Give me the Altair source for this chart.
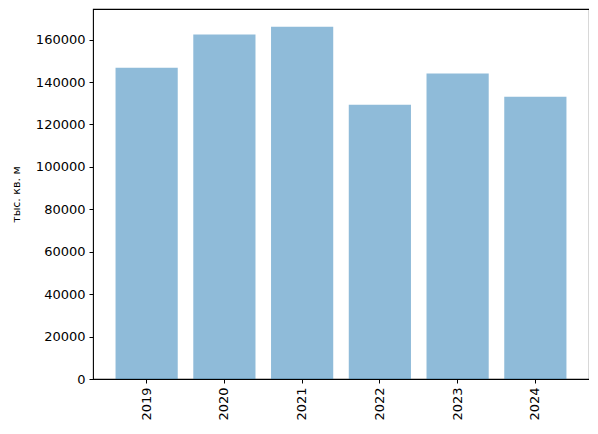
import altair as alt
import pandas as pd

years = ["2019", "2020", "2021", "2022", "2023", "2024"]
values = [146800, 162400, 166100, 129300, 144000, 133100]

df = pd.DataFrame({"year": years, "value": values})

chart = alt.Chart(df).mark_bar(color="#1f77b4", opacity=0.5).encode(
    x=alt.X("year:N", title=None,
            scale=alt.Scale(paddingInner=0.2, paddingOuter=0.29),
            axis=alt.Axis(labelAngle=270, labelAlign="right", labelBaseline="middle",
                          labelFont="DejaVu Sans", labelFontSize=13, labelColor="black",
                          tickColor="black", tickSize=4, labelPadding=4, domain=False)),
    y=alt.Y("value:Q", title="тыс. кв. м",
            scale=alt.Scale(domain=[0, 174450], nice=False, zero=True),
            axis=alt.Axis(values=[0, 20000, 40000, 60000, 80000, 100000, 120000, 140000, 160000],
                          format="d", grid=False, domain=False,
                          labelFont="DejaVu Sans", labelFontSize=13, labelColor="black",
                          tickColor="black", tickSize=4, labelPadding=4,
                          titleFont="DejaVu Sans", titleFontSize=11, titleFontWeight="normal",
                          titleColor="black", titlePadding=14)),
).properties(
    width=496, height=370,
    autosize=alt.AutoSizeParams(type="none"),
    padding={"left": 85, "top": 1, "right": 0, "bottom": 46},
).configure_view(stroke="black", strokeWidth=1.1)

chart.save("out.html", embed_options={"renderer": "svg", "actions": False})
